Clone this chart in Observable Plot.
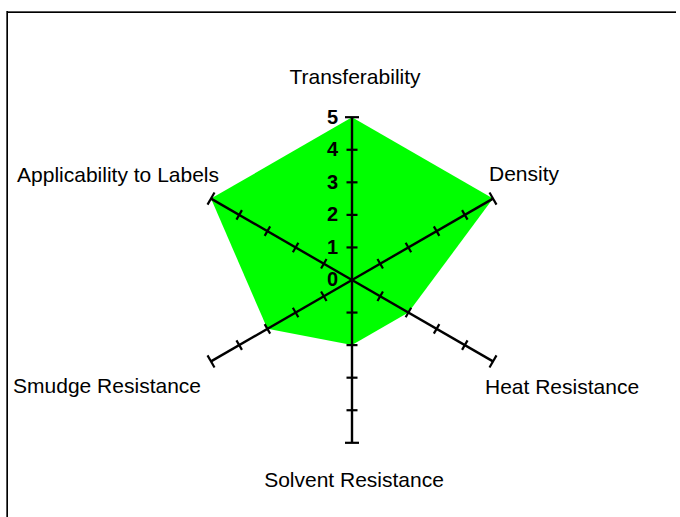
<!DOCTYPE html>
<html>
<head>
<meta charset="utf-8">
<script src="https://cdn.jsdelivr.net/npm/d3@7"></script>
<script src="https://cdn.jsdelivr.net/npm/@observablehq/plot@0.6"></script>
<style>
  html, body { margin: 0; padding: 0; background: #fff; overflow: hidden; }
  #wrap { position: relative; width: 680px; height: 517px; overflow: hidden; }
  #borderTop { position: absolute; left: 6px; top: 11px; width: 670px; height: 2px;
               background: linear-gradient(#555 0 1px, #000 1px 2px); }
  #borderLeft { position: absolute; left: 6px; top: 11px; width: 2px; height: 506px;
                background: linear-gradient(90deg, #555 0 1px, #000 1px 2px); }
  #chart { position: absolute; left: 0; top: 0; }
</style>
</head>
<body>
<div id="wrap"><div id="chart"></div><div id="borderTop"></div><div id="borderLeft"></div></div>
<script>
// ---- data ----
const categories = ["Transferability", "Density", "Heat Resistance", "Solvent Resistance", "Smudge Resistance", "Applicability to Labels"];
const values = [5, 5, 2, 2, 3, 5];
const tickValues = [0, 1, 2, 3, 4, 5];
const maxValue = 5;

// label placement relative to axis end (pixels)
const labelAnchor = ["middle", "start", "start", "middle", "end", "end"];
const labelDx = [3, -4, -8, 2, -10, 8];
const labelDy = [-40, -24, 26, 37, 25, -23];

// ---- layout ----
const W = 680, H = 517;
const cx = 351.5, cy = 279.5;   // centre in pixels
const ppu = 32.56;              // pixels per unit
const xDomain = [-cx / ppu, (W - cx) / ppu];
const yDomain = [-(H - cy) / ppu, cy / ppu];

const n = categories.length;
const angle = i => (i * 2 * Math.PI) / n;
const px = (i, r) => r * Math.sin(angle(i));
const py = (i, r) => r * Math.cos(angle(i));

const polygon = values.map((v, i) => ({x: px(i, v), y: py(i, v)}));
const axes = categories.map((c, i) => ({name: c, i, x1: 0, y1: 0, x2: px(i, maxValue), y2: py(i, maxValue)}));

const ticks = [];
categories.forEach((c, i) => {
  tickValues.filter(t => t > 0).forEach(t => {
    const h = (t === maxValue ? 7 : 5.5) / ppu;
    const a = angle(i);
    const ox = Math.cos(a) * h, oy = -Math.sin(a) * h;
    ticks.push({x1: px(i, t) - ox, y1: py(i, t) - oy, x2: px(i, t) + ox, y2: py(i, t) + oy});
  });
});

const labels = categories.map((c, i) => ({name: c, x: px(i, maxValue), y: py(i, maxValue), i}));
const tickLabels = tickValues.map(t => ({t, x: 0, y: t}));

const font = "'Liberation Sans', Arial, Helvetica, sans-serif";

const chart = Plot.plot({
  width: W,
  height: H,
  margin: 0,
  x: {domain: xDomain, axis: null},
  y: {domain: yDomain, axis: null},
  style: {background: "transparent", fontFamily: font, overflow: "visible"},
  marks: [
    Plot.line(polygon, {x: "x", y: "y", curve: "linear-closed", fill: "#00ff00", stroke: "none"}),
    Plot.link(axes, {x1: "x1", y1: "y1", x2: "x2", y2: "y2", stroke: "black", strokeWidth: 2.4}),
    Plot.link(ticks, {x1: "x1", y1: "y1", x2: "x2", y2: "y2", stroke: "black", strokeWidth: 2.2}),
    Plot.text(tickLabels, {x: "x", y: "y", text: d => String(d.t), textAnchor: "end", dx: -14,
      fontSize: 20, fontWeight: "bold", fill: "black", fontFamily: font}),
    ...labels.map(d => Plot.text([d], {x: "x", y: "y", text: "name", textAnchor: labelAnchor[d.i],
      dx: labelDx[d.i], dy: labelDy[d.i], fontSize: 21, fill: "black", fontFamily: font}))
  ]
});
document.getElementById("chart").appendChild(chart);
</script>
</body>
</html>
